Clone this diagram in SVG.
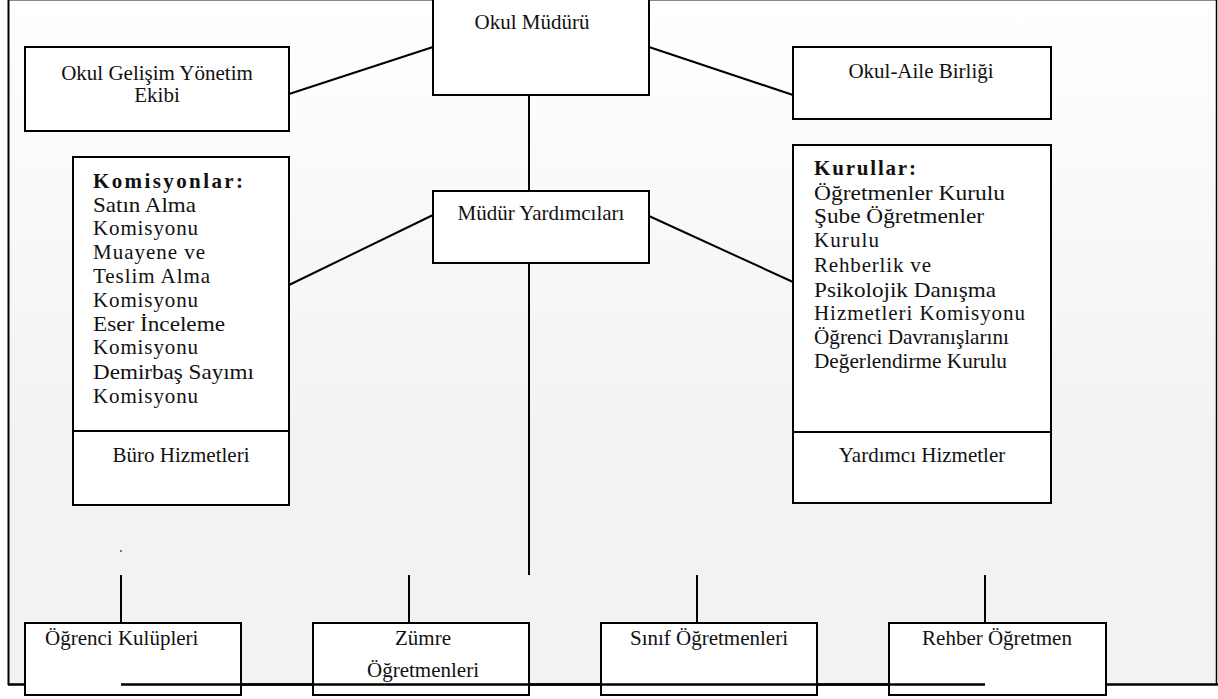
<svg xmlns="http://www.w3.org/2000/svg" width="1218" height="699" viewBox="0 0 1218 699">
<defs>
<linearGradient id="bg" x1="0" y1="0" x2="0" y2="1">
<stop offset="0" stop-color="#ffffff"/>
<stop offset="0.65" stop-color="#f2f2f2"/>
<stop offset="1" stop-color="#f2f2f2"/>
</linearGradient>
</defs>
<style>
.box{fill:#ffffff;stroke:#000;stroke-width:2}
.ln{stroke:#000;stroke-width:2;fill:none}
text{font-family:"Liberation Serif","Times New Roman",serif;font-size:21px;fill:#111}
.c{text-anchor:middle}
.b{font-weight:bold}
</style>
<rect width="1218" height="699" fill="#ffffff"/>
<g id="frame">
<rect x="8" y="0" width="1209" height="684" fill="url(#bg)"/>
<line x1="8" y1="0.5" x2="1217" y2="0.5" stroke="#888" stroke-width="1"/>
<line x1="8.5" y1="0" x2="8.5" y2="685" stroke="#000" stroke-width="2"/>
<line x1="1216.5" y1="0" x2="1216.5" y2="685" stroke="#000" stroke-width="1.5"/>
<line x1="8" y1="684.5" x2="1218" y2="684.5" stroke="#000" stroke-width="2.5"/>
</g>
<g id="connectors">
<line class="ln" x1="289" y1="94" x2="433" y2="47"/>
<line class="ln" x1="649" y1="47" x2="793" y2="95"/>
<line class="ln" x1="529" y1="95" x2="529" y2="191"/>
<line class="ln" x1="289" y1="285" x2="433" y2="215"/>
<line class="ln" x1="649" y1="216" x2="793" y2="282"/>
<line class="ln" x1="529" y1="263" x2="529" y2="575"/>
<line x1="121" y1="550" x2="121" y2="552" stroke="#000" stroke-width="1"/>
<line class="ln" x1="121" y1="575" x2="121" y2="623"/>
<line class="ln" x1="409" y1="575" x2="409" y2="623"/>
<line class="ln" x1="697" y1="575" x2="697" y2="623"/>
<line class="ln" x1="985" y1="575" x2="985" y2="623"/>
</g>
<g id="okul-muduru">
<rect class="box" x="433" y="-2" width="216" height="97"/>
<text class="c" x="532" y="29">Okul Müdürü</text>
</g>
<g id="okul-gelisim">
<rect class="box" x="25" y="47" width="264" height="84"/>
<text class="c" x="157" y="80">Okul Gelişim Yönetim</text>
<text class="c" x="157" y="102">Ekibi</text>
</g>
<g id="okul-aile">
<rect class="box" x="793" y="47" width="258" height="72"/>
<text class="c" x="921" y="78">Okul-Aile Birliği</text>
</g>
<g id="mudur-yardimcilari">
<rect class="box" x="433" y="191" width="216" height="72"/>
<text class="c" x="541" y="220">Müdür Yardımcıları</text>
</g>
<g id="komisyonlar">
<rect class="box" x="73" y="157" width="216" height="348"/>
<line class="ln" x1="73" y1="431" x2="289" y2="431"/>
<text class="b" x="93" y="188" textLength="150" lengthAdjust="spacing">Komisyonlar:</text>
<text x="93" y="212" textLength="103" lengthAdjust="spacingAndGlyphs">Satın Alma</text>
<text x="93" y="235" textLength="105" lengthAdjust="spacing">Komisyonu</text>
<text x="93" y="259" textLength="112" lengthAdjust="spacing">Muayene ve</text>
<text x="93" y="283" textLength="117" lengthAdjust="spacing">Teslim Alma</text>
<text x="93" y="307" textLength="105" lengthAdjust="spacing">Komisyonu</text>
<text x="93" y="331" textLength="132" lengthAdjust="spacingAndGlyphs">Eser İnceleme</text>
<text x="93" y="354" textLength="105" lengthAdjust="spacing">Komisyonu</text>
<text x="93" y="379" textLength="161" lengthAdjust="spacingAndGlyphs">Demirbaş Sayımı</text>
<text x="93" y="403" textLength="105" lengthAdjust="spacing">Komisyonu</text>
<text class="c" x="181" y="462">Büro Hizmetleri</text>
</g>
<g id="kurullar">
<rect class="box" x="793" y="145" width="258" height="358"/>
<line class="ln" x1="793" y1="432" x2="1051" y2="432"/>
<text class="b" x="814" y="175" textLength="102" lengthAdjust="spacing">Kurullar:</text>
<text x="814" y="200" textLength="191" lengthAdjust="spacingAndGlyphs">Öğretmenler Kurulu</text>
<text x="814" y="223" textLength="170" lengthAdjust="spacingAndGlyphs">Şube Öğretmenler</text>
<text x="814" y="247" textLength="65" lengthAdjust="spacing">Kurulu</text>
<text x="814" y="272" textLength="117" lengthAdjust="spacing">Rehberlik ve</text>
<text x="814" y="297" textLength="182" lengthAdjust="spacingAndGlyphs">Psikolojik Danışma</text>
<text x="814" y="320" textLength="211" lengthAdjust="spacing">Hizmetleri Komisyonu</text>
<text x="814" y="344" textLength="195" lengthAdjust="spacingAndGlyphs">Öğrenci Davranışlarını</text>
<text x="814" y="368" textLength="193" lengthAdjust="spacingAndGlyphs">Değerlendirme Kurulu</text>
<text class="c" x="922" y="462">Yardımcı Hizmetler</text>
</g>
<g id="ogrenci-kulupleri">
<rect class="box" x="25" y="623" width="216" height="72"/>
<text x="45" y="645">Öğrenci Kulüpleri</text>
</g>
<g id="zumre">
<rect class="box" x="313" y="623" width="216" height="72"/>
<text class="c" x="423" y="645">Zümre</text>
<text class="c" x="423" y="677">Öğretmenleri</text>
</g>
<g id="sinif">
<rect class="box" x="601" y="623" width="216" height="72"/>
<text class="c" x="709" y="645">Sınıf Öğretmenleri</text>
</g>
<g id="rehber">
<rect class="box" x="889" y="623" width="217" height="72"/>
<text class="c" x="997" y="645">Rehber Öğretmen</text>
</g>
<g id="frame-overlay">
<line x1="121" y1="684.5" x2="985" y2="684.5" stroke="#000" stroke-width="2.5"/>
</g>
</svg>
